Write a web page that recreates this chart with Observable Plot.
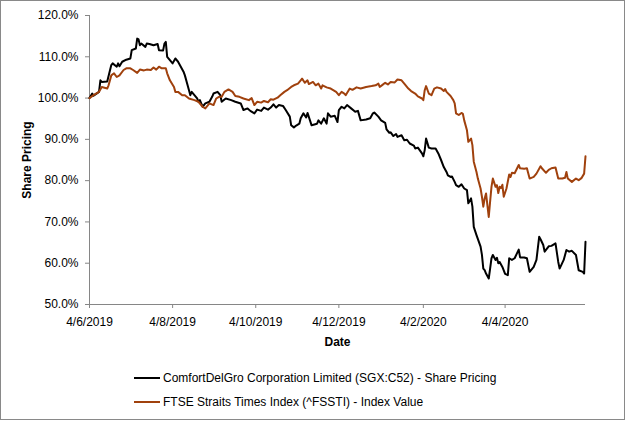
<!DOCTYPE html>
<html>
<head>
<meta charset="utf-8">
<script src="https://cdn.jsdelivr.net/npm/d3@7"></script>
<script src="https://cdn.jsdelivr.net/npm/@observablehq/plot@0.6"></script>
<style>
  html, body { margin: 0; padding: 0; background: #fff; }
  #wrap { position: relative; width: 625px; height: 421px; font-family: "Liberation Sans", Arial, sans-serif; }
  #border { position: absolute; left: 0; top: 0; width: 625px; height: 420px; box-sizing: border-box; border: 1px solid #898989; pointer-events: none; }
  #chart svg { display: block; }
  #legend { position: relative; width: 625px; height: 61px; font-size: 12px; color: #000; }
  .row { position: absolute; left: 134px; height: 16px; display: flex; align-items: center; white-space: nowrap; }
  .swatch { display: inline-block; width: 26px; height: 2px; margin-right: 3px; }
</style>
</head>
<body>
<div id="wrap">
  <div id="chart"></div>
  <div id="legend"></div>
  <div id="border"></div>
</div>
<script>
const seriesNames = [
  "ComfortDelGro Corporation Limited (SGX:C52) - Share Pricing",
  "FTSE Straits Times Index (^FSSTI) - Index Value"
];
const seriesColors = ["#000000", "#A0410D"];

const stockDates = ["2019-06-04","2019-06-06","2019-06-07","2019-06-11","2019-06-12","2019-06-13","2019-06-17","2019-06-20","2019-06-21","2019-06-24","2019-06-25","2019-06-26","2019-06-28","2019-07-01","2019-07-04","2019-07-05","2019-07-08","2019-07-09","2019-07-10","2019-07-11","2019-07-12","2019-07-15","2019-07-16","2019-07-18","2019-07-21","2019-07-24","2019-07-25","2019-07-28","2019-07-29","2019-07-30","2019-07-31","2019-08-02","2019-08-04","2019-08-06","2019-08-08","2019-08-10","2019-08-12","2019-08-13","2019-08-15","2019-08-16","2019-08-17","2019-08-18","2019-08-20","2019-08-22","2019-08-23","2019-08-24","2019-08-26","2019-08-28","2019-08-31","2019-09-02","2019-09-03","2019-09-06","2019-09-08","2019-09-09","2019-09-12","2019-09-16","2019-09-19","2019-09-23","2019-09-25","2019-09-28","2019-09-30","2019-10-03","2019-10-05","2019-10-08","2019-10-10","2019-10-13","2019-10-15","2019-10-17","2019-10-19","2019-10-21","2019-10-24","2019-10-26","2019-10-29","2019-10-30","2019-11-01","2019-11-03","2019-11-05","2019-11-06","2019-11-08","2019-11-10","2019-11-11","2019-11-14","2019-11-16","2019-11-18","2019-11-19","2019-11-21","2019-11-23","2019-11-25","2019-11-26","2019-11-28","2019-12-01","2019-12-03","2019-12-04","2019-12-06","2019-12-08","2019-12-10","2019-12-13","2019-12-16","2019-12-18","2019-12-20","2019-12-24","2019-12-27","2019-12-29","2019-12-30","2020-01-02","2020-01-04","2020-01-07","2020-01-08","2020-01-10","2020-01-11","2020-01-13","2020-01-15","2020-01-16","2020-01-19","2020-01-21","2020-01-23","2020-01-25","2020-01-28","2020-01-29","2020-01-31","2020-02-03","2020-02-04","2020-02-05","2020-02-06","2020-02-08","2020-02-10","2020-02-13","2020-02-15","2020-02-17","2020-02-19","2020-02-21","2020-02-22","2020-02-24","2020-02-25","2020-02-27","2020-02-28","2020-03-01","2020-03-03","2020-03-05","2020-03-07","2020-03-08","2020-03-10","2020-03-11","2020-03-12","2020-03-14","2020-03-17","2020-03-18","2020-03-19","2020-03-20","2020-03-21","2020-03-23","2020-03-24","2020-03-25","2020-03-26","2020-03-28","2020-03-29","2020-03-30","2020-03-31","2020-04-02","2020-04-04","2020-04-06","2020-04-07","2020-04-09","2020-04-11","2020-04-14","2020-04-15","2020-04-18","2020-04-20","2020-04-22","2020-04-25","2020-04-27","2020-04-29","2020-04-30","2020-05-02","2020-05-03","2020-05-06","2020-05-08","2020-05-11","2020-05-13","2020-05-14","2020-05-17","2020-05-19","2020-05-21","2020-05-23","2020-05-26","2020-05-28","2020-05-31","2020-06-01","2020-06-02"];
const stockValues = [100.0,101.1,100.6,101.5,104.3,103.9,104.0,108.0,108.4,107.6,108.4,107.7,108.8,109.3,109.6,111.6,112.0,114.4,114.2,112.8,113.2,112.4,113.2,113.1,112.8,113.1,111.6,111.5,113.2,113.6,110.0,109.2,108.4,109.6,108.8,107.6,106.4,105.5,103.1,101.9,100.7,101.5,100.7,99.9,99.1,99.5,97.9,98.7,99.1,100.3,101.1,101.5,100.7,99.1,99.9,99.5,99.1,98.7,97.1,97.5,96.9,96.3,97.2,96.9,97.7,97.2,97.7,98.5,97.7,98.3,98.1,97.1,95.5,93.4,92.9,93.4,93.8,95.1,96.3,95.3,96.4,93.4,93.6,93.8,94.6,93.8,95.1,93.8,96.3,95.5,95.7,94.2,97.1,97.9,97.5,98.3,97.5,96.7,96.9,94.6,94.8,95.1,96.3,96.5,95.5,94.6,94.0,92.4,91.6,91.7,90.8,91.3,90.6,91.0,89.8,89.9,89.0,88.5,87.8,88.0,86.6,85.9,87.4,90.2,88.0,87.8,87.8,86.6,85.0,83.3,82.1,81.3,80.9,81.0,79.7,78.9,78.5,79.1,78.1,77.7,74.5,75.7,73.7,68.8,66.8,64.0,62.0,58.7,58.3,57.5,56.3,58.7,61.2,62.0,60.8,61.3,60.0,60.3,59.1,57.4,57.1,61.2,60.8,61.2,63.3,61.4,61.4,61.2,57.9,59.1,60.8,66.4,65.8,64.4,62.8,64.1,64.2,64.8,60.3,58.7,60.8,63.2,62.8,63.0,62.0,58.3,57.9,57.5,65.2];

const indexDates = ["2019-06-04","2019-06-07","2019-06-11","2019-06-13","2019-06-17","2019-06-18","2019-06-20","2019-06-22","2019-06-24","2019-06-26","2019-06-29","2019-07-01","2019-07-04","2019-07-06","2019-07-09","2019-07-11","2019-07-14","2019-07-16","2019-07-19","2019-07-21","2019-07-23","2019-07-25","2019-07-27","2019-07-30","2019-07-31","2019-08-02","2019-08-05","2019-08-06","2019-08-08","2019-08-11","2019-08-13","2019-08-16","2019-08-20","2019-08-23","2019-08-26","2019-08-28","2019-08-31","2019-09-03","2019-09-05","2019-09-07","2019-09-09","2019-09-11","2019-09-14","2019-09-17","2019-09-19","2019-09-22","2019-09-25","2019-09-29","2019-10-01","2019-10-03","2019-10-05","2019-10-08","2019-10-10","2019-10-13","2019-10-15","2019-10-17","2019-10-20","2019-10-22","2019-10-25","2019-10-27","2019-10-30","2019-11-01","2019-11-04","2019-11-06","2019-11-07","2019-11-09","2019-11-11","2019-11-12","2019-11-15","2019-11-17","2019-11-19","2019-11-21","2019-11-22","2019-11-25","2019-11-28","2019-12-02","2019-12-04","2019-12-06","2019-12-08","2019-12-09","2019-12-12","2019-12-14","2019-12-17","2019-12-20","2019-12-24","2019-12-28","2019-12-31","2020-01-02","2020-01-03","2020-01-05","2020-01-07","2020-01-09","2020-01-11","2020-01-14","2020-01-16","2020-01-19","2020-01-21","2020-01-24","2020-01-26","2020-01-29","2020-01-31","2020-02-03","2020-02-04","2020-02-05","2020-02-06","2020-02-08","2020-02-10","2020-02-12","2020-02-14","2020-02-17","2020-02-19","2020-02-20","2020-02-21","2020-02-24","2020-02-26","2020-02-27","2020-02-28","2020-03-01","2020-03-03","2020-03-04","2020-03-05","2020-03-07","2020-03-08","2020-03-10","2020-03-11","2020-03-12","2020-03-14","2020-03-15","2020-03-17","2020-03-18","2020-03-19","2020-03-20","2020-03-21","2020-03-23","2020-03-24","2020-03-25","2020-03-26","2020-03-28","2020-03-29","2020-03-30","2020-03-31","2020-04-01","2020-04-02","2020-04-03","2020-04-05","2020-04-07","2020-04-08","2020-04-09","2020-04-11","2020-04-14","2020-04-15","2020-04-18","2020-04-20","2020-04-22","2020-04-25","2020-04-27","2020-04-30","2020-05-01","2020-05-04","2020-05-06","2020-05-08","2020-05-11","2020-05-13","2020-05-16","2020-05-18","2020-05-19","2020-05-20","2020-05-23","2020-05-26","2020-05-28","2020-05-30","2020-06-01","2020-06-02"];
const indexValues = [100.0,100.7,101.5,102.7,102.3,103.1,105.5,106.0,105.1,105.5,106.8,107.2,107.2,106.8,106.1,106.9,106.7,106.9,106.8,107.4,106.9,107.6,107.2,107.2,106.0,104.3,102.7,101.5,101.5,100.7,100.7,99.9,99.5,99.1,97.9,97.5,98.7,98.3,99.9,100.3,100.3,101.5,102.1,101.5,100.5,100.3,99.9,99.5,100.0,98.3,99.1,98.9,99.3,99.0,99.7,99.6,100.1,100.7,101.5,101.9,102.7,103.1,103.5,104.3,104.7,103.7,104.3,103.4,103.9,103.1,103.5,102.3,103.1,102.6,102.3,101.5,100.7,101.5,101.1,100.7,102.3,102.0,102.6,102.3,102.7,102.9,103.1,103.5,102.7,103.2,103.7,103.3,103.9,103.8,104.5,104.3,103.5,102.3,101.7,101.1,100.4,99.9,99.5,101.9,102.9,101.1,100.7,102.3,102.6,102.3,101.7,102.2,101.5,100.5,99.5,98.7,96.3,95.9,96.4,96.2,94.6,92.2,89.4,90.2,88.6,84.6,82.1,80.5,78.1,76.1,73.7,75.7,76.9,71.2,74.9,78.5,80.5,78.5,78.9,77.0,78.5,78.2,79.0,76.1,78.1,81.5,80.9,81.9,81.8,83.8,83.0,82.9,83.0,80.5,80.9,81.7,83.5,83.0,81.9,82.6,83.0,83.2,80.5,80.5,80.7,82.1,80.5,79.7,80.5,80.1,80.6,81.7,85.9];

const xDomain = ["2019-06-04", "2020-06-02"];
const xTickDates = ["2019-06-04","2019-08-04","2019-10-04","2019-12-04","2020-02-04","2020-04-04"];
const xTickLabels = ["4/6/2019","4/8/2019","4/10/2019","4/12/2019","4/2/2020","4/4/2020"];
const yTicks = [50, 60, 70, 80, 90, 100, 110, 120];

const stock = stockDates.map((d, i) => ({date: new Date(d), value: stockValues[i]}));
const index = indexDates.map((d, i) => ({date: new Date(d), value: indexValues[i]}));
const tickDates = xTickDates.map(d => new Date(d));
const axisGray = "#868686";

const chart = Plot.plot({
  width: 625,
  height: 360,
  marginLeft: 89,
  marginRight: 40,
  marginTop: 15,
  marginBottom: 56,
  style: {fontFamily: "'Liberation Sans', Arial, sans-serif", fontSize: "12px", color: "#000", background: "#fff"},
  x: {type: "utc", domain: xDomain.map(d => new Date(d))},
  y: {domain: [50, 120]},
  marks: [
    Plot.ruleY([50], {stroke: axisGray, strokeWidth: 1}),
    Plot.ruleX([new Date(xDomain[0])], {stroke: axisGray, strokeWidth: 1}),
    Plot.axisX({
      ticks: tickDates,
      tickFormat: (d) => xTickLabels[tickDates.findIndex(t => +t === +d)],
      tickSize: 4, tickPadding: 9, stroke: axisGray, fill: "#000", fontSize: 12, label: null
    }),
    Plot.axisY({
      ticks: yTicks,
      tickFormat: (d) => d.toFixed(1) + "%",
      tickSize: 4, tickPadding: 7, stroke: axisGray, fill: "#000", fontSize: 12, label: null
    }),
    Plot.line(stock, {x: "date", y: "value", stroke: seriesColors[0], strokeWidth: 2, strokeLinejoin: "round"}),
    Plot.line(index, {x: "date", y: "value", stroke: seriesColors[1], strokeWidth: 2, strokeLinejoin: "round"}),
    Plot.text(["Share Pricing"], {frameAnchor: "left", dx: -62, rotate: -90, text: d => d, fontWeight: "bold", fontSize: 12, fill: "#000", textAnchor: "middle", lineAnchor: "middle"}),
    Plot.text(["Date"], {frameAnchor: "bottom", dy: 38, text: d => d, fontWeight: "bold", fontSize: 12, fill: "#000", textAnchor: "middle", lineAnchor: "middle"})
  ]
});
document.getElementById("chart").appendChild(chart);

const legend = document.getElementById("legend");
const rowTops = [10, 34];
seriesNames.forEach((name, i) => {
  const row = document.createElement("div");
  row.className = "row";
  row.style.top = rowTops[i] + "px";
  const sw = document.createElement("span");
  sw.className = "swatch";
  sw.style.background = seriesColors[i];
  const label = document.createElement("span");
  label.textContent = name;
  row.appendChild(sw);
  row.appendChild(label);
  legend.appendChild(row);
});
</script>
</body>
</html>
